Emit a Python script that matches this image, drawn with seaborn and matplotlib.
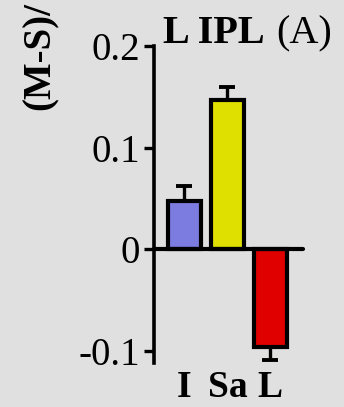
import matplotlib
matplotlib.use("Agg")
import matplotlib.pyplot as plt
import numpy as np
import pandas as pd
import seaborn as sns

# Data: mean normalized difference per condition and its standard error
categories = ["I", "Sa", "L"]
values = [0.047, 0.147, -0.096]
errors = [0.015, 0.013, 0.013]
bar_colors = ["#7b7be0", "#e0e000", "#e00000"]
yticks = [-0.1, 0, 0.1, 0.2]
ytick_labels = ["-0.1", "0", "0.1", "0.2"]

BG = "#e0e0e0"

sns.set_style("ticks")
plt.rcParams["font.family"] = ["Liberation Serif", "DejaVu Serif"]
plt.rcParams["axes.linewidth"] = 2.6
plt.rcParams["text.color"] = "black"
plt.rcParams["axes.edgecolor"] = "black"
plt.rcParams["xtick.color"] = "black"
plt.rcParams["ytick.color"] = "black"
plt.rcParams["xtick.labelcolor"] = "black"
plt.rcParams["ytick.labelcolor"] = "black"

fig = plt.figure(figsize=(3.44, 4.07), dpi=100, facecolor=BG)
ax = fig.add_axes([154 / 344, 1 - 363 / 407, (303 - 154) / 344, (363 - 46) / 407])
ax.set_facecolor(BG)

df = pd.DataFrame({"cond": categories, "val": values, "err": errors})

# One-sided error bars: up for positive bars, down for negative bars
vals = np.array(values)
errs = np.array(errors)
lower = np.where(vals < 0, errs, 0)
upper = np.where(vals >= 0, errs, 0)
ax.errorbar(np.arange(len(categories)), vals, yerr=[lower, upper], fmt="none",
            ecolor="black", elinewidth=2.4, capsize=5.5, capthick=2.8, zorder=1)

sns.barplot(data=df, x="cond", y="val", hue="cond", palette=bar_colors,
            order=categories, hue_order=categories, legend=False,
            width=0.77, edgecolor="black", linewidth=3, saturation=1,
            errorbar=None, ax=ax, zorder=2)

ax.axhline(0, color="black", lw=3, zorder=3, clip_on=False)

ax.set_xlim(-0.71, 2.76)
ax.set_ylim(-0.112, 0.2)
ax.set_yticks(yticks)
ax.set_yticklabels(ytick_labels)
ax.tick_params(axis="y", direction="out", length=7, width=2.4, pad=3,
               labelsize=28, colors="black")
ax.tick_params(axis="x", length=0, pad=5, labelsize=27, colors="black")
for lab in ax.get_xticklabels():
    lab.set_fontweight("bold")
ax.set_xlabel("")
ax.set_ylabel("")
for side in ["top", "right", "bottom"]:
    ax.spines[side].set_visible(False)

# Title: bold region name followed by regular panel letter
t1 = fig.text(163 / 344, 1 - 43 / 407, "L IPL", fontsize=29, fontweight="bold",
              ha="left", va="baseline")
fig.canvas.draw()
bb = t1.get_window_extent()
fig.text(bb.x1 / fig.bbox.width + 12 / 344, 1 - 43 / 407, "(A)", fontsize=29,
         ha="left", va="baseline")

# Rotated y label
fig.text(40 / 344, 1 - 110 / 407, "(M-S)/", fontsize=28, fontweight="bold",
         rotation=90, rotation_mode="anchor", ha="left", va="center")

fig.savefig("out.png", dpi=100, facecolor=BG)
